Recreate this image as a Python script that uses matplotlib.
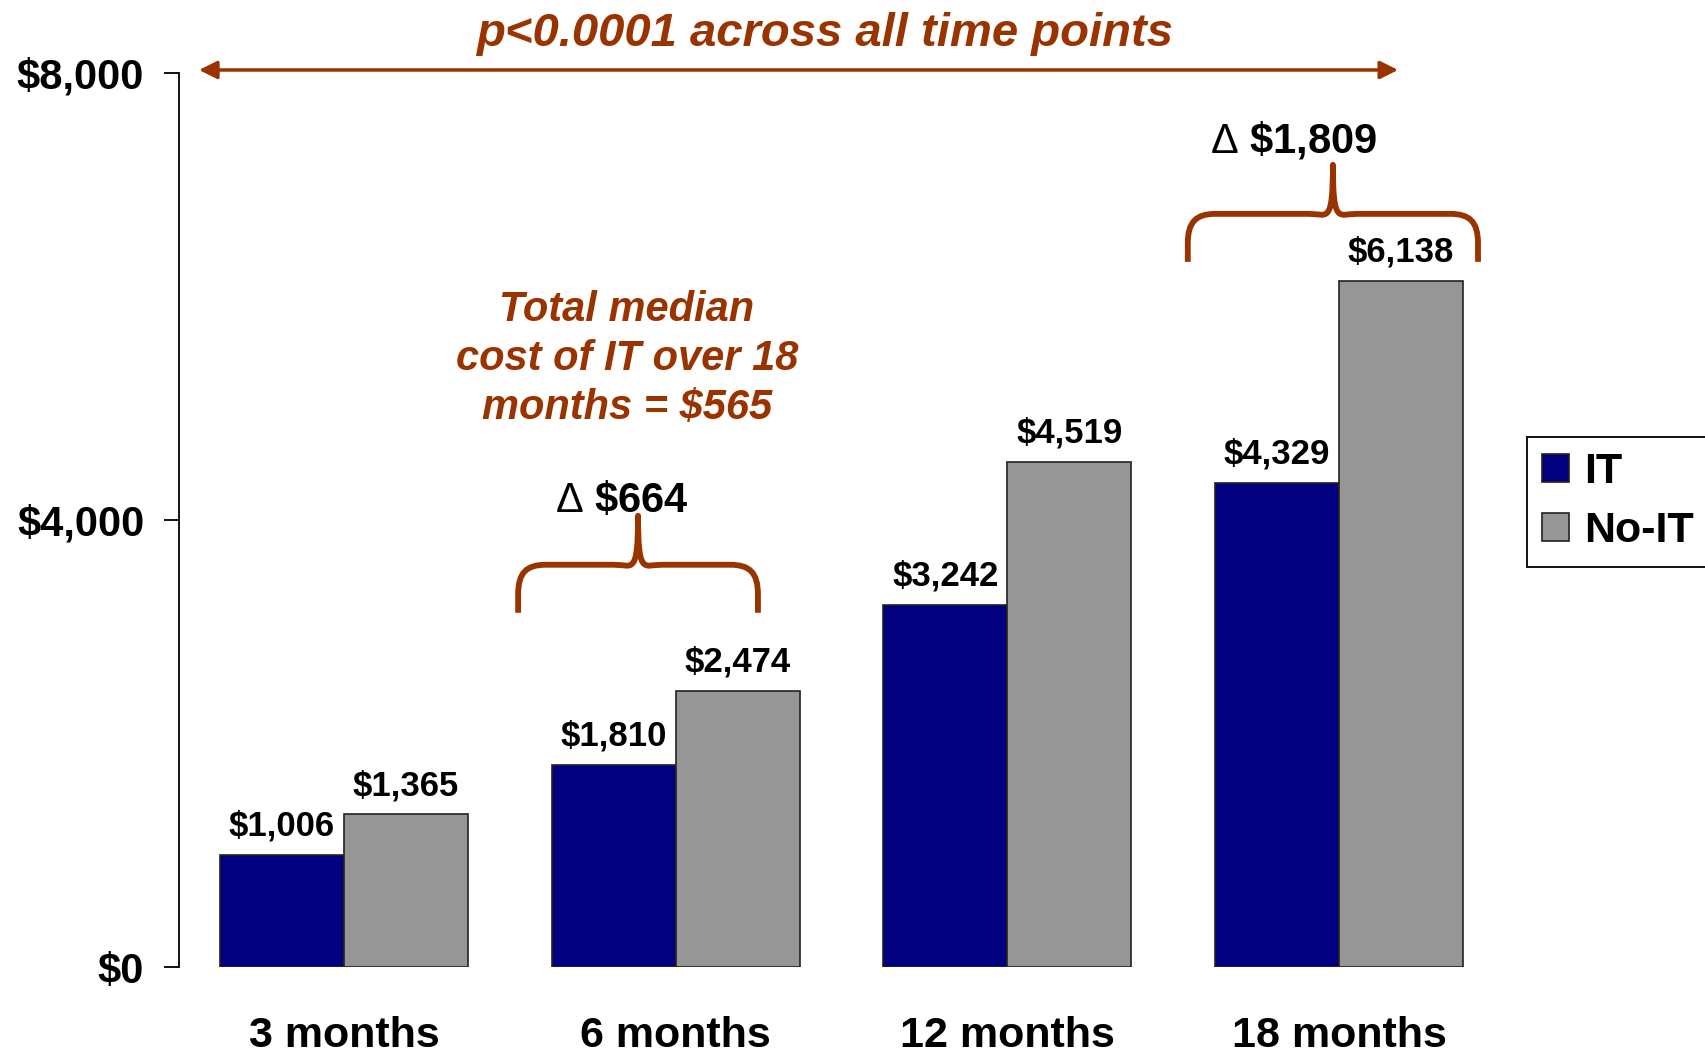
import numpy as np
import matplotlib
matplotlib.use('Agg')
import matplotlib.pyplot as plt
from matplotlib.path import Path
from matplotlib.patches import PathPatch

plt.rcParams['font.family'] = ['Liberation Sans', 'DejaVu Sans']
plt.rcParams['mathtext.fontset'] = 'custom'
plt.rcParams['mathtext.rm'] = 'Liberation Sans'

# data
periods = ['3 months', '6 months', '12 months', '18 months']
it_cost = [1006, 1810, 3242, 4329]
noit_cost = [1365, 2474, 4519, 6138]
series = ['IT', 'No-IT']
ytick_vals = [0, 4000, 8000]
ytick_labels = ['$0', '$4,000', '$8,000']

brown = '#993300'
navy = '#000080'
grey = '#969696'

fig = plt.figure(figsize=(17.06, 10.54), dpi=100)
ax = fig.add_axes([179 / 1706, 87 / 1054, 1301 / 1706, 894 / 1054])

x = np.arange(len(periods))
w = 0.374
b1 = ax.bar(x - w / 2, it_cost, w, color=navy, edgecolor='#222222', linewidth=1.2, label=series[0])
b2 = ax.bar(x + w / 2, noit_cost, w, color=grey, edgecolor='#222222', linewidth=1.2, label=series[1])

for bars, vals in ((b1, it_cost), (b2, noit_cost)):
    for r, v in zip(bars, vals):
        ax.annotate(f'${v:,}', (r.get_x() + r.get_width() / 2, v), xytext=(0, 14),
                    textcoords='offset points', ha='center', va='baseline',
                    fontsize=25, fontweight='bold')

ax.set_xlim(-0.4975, 3.425)
ax.set_ylim(0, 8000)
ax.set_xticks(x)
ax.set_xticklabels(periods, fontsize=31, fontweight='bold')
ax.set_yticks(ytick_vals)
ax.set_yticklabels(ytick_labels, fontsize=30, fontweight='bold')
ax.tick_params(axis='x', length=0, pad=35)
ax.tick_params(axis='y', length=11, width=1.3, pad=14)
for s in ['top', 'right', 'bottom']:
    ax.spines[s].set_visible(False)
ax.spines['left'].set_linewidth(1.3)

# pixel -> data scale
fw, fh = fig.get_size_inches() * fig.dpi
pos = ax.get_position()
sx = (ax.get_xlim()[1] - ax.get_xlim()[0]) / (pos.width * fw)
sy = (ax.get_ylim()[1] - ax.get_ylim()[0]) / (pos.height * fh)


def brace(xl, xr, yb):
    c = (xl + xr) / 2
    yh = yb + 48 * sy
    yt = yh + 49 * sy
    verts = [(xl, yb), (xl, yh - 30 * sy), (xl, yh - 8 * sy), (xl + 8 * sx, yh), (xl + 28 * sx, yh),
             (c - 24 * sx, yh), (c - 6 * sx, yh), (c, yh - 12 * sy), (c, yt),
             (c, yh - 12 * sy), (c + 6 * sx, yh), (c + 24 * sx, yh),
             (xr - 28 * sx, yh), (xr - 8 * sx, yh), (xr, yh - 8 * sy), (xr, yh - 30 * sy), (xr, yb)]
    codes = [Path.MOVETO, Path.LINETO, Path.CURVE4, Path.CURVE4, Path.CURVE4,
             Path.LINETO, Path.CURVE4, Path.CURVE4, Path.CURVE4,
             Path.CURVE4, Path.CURVE4, Path.CURVE4,
             Path.LINETO, Path.CURVE4, Path.CURVE4, Path.CURVE4, Path.LINETO]
    ax.add_patch(PathPatch(Path(verts, codes), fill=False, edgecolor=brown, lw=4.2,
                           capstyle='butt', joinstyle='round', clip_on=False))


brace(0.525, 1.248, 3170)
brace(2.544, 3.419, 6310)
ax.text(0.838, 4072, r'$\Delta$ \$664', ha='center', va='baseline', fontsize=30, fontweight='bold')
ax.text(2.864, 7290, r'$\Delta$ \$1,809', ha='center', va='baseline', fontsize=30, fontweight='bold')

ax.text(0.853, 5437, 'Total median\ncost of IT over 18\nmonths = $565', ha='center', va='center',
        multialignment='center', fontsize=30, fontweight='bold', fontstyle='italic',
        color=brown, linespacing=1.31)

ax.annotate('', xy=(3.178, 8027), xytext=(-0.437, 8027),
            arrowprops=dict(arrowstyle='<|-|>', color=brown, lw=2.5, mutation_scale=27,
                            shrinkA=0, shrinkB=0), annotation_clip=False)
ax.text(1.45, 8345, 'p<0.0001 across all time points', ha='center', va='center',
        fontsize=34, fontweight='bold', fontstyle='italic', color=brown)

leg = ax.legend(loc='upper left', bbox_to_anchor=(1527 / 1706, 1 - 437 / 1054),
                bbox_transform=fig.transFigure, borderaxespad=0, fancybox=False,
                edgecolor='black', framealpha=1, handlelength=0.63, handleheight=0.63,
                handletextpad=0.35, borderpad=0.35, labelspacing=0.45,
                prop={'size': 31, 'weight': 'bold'})
leg.get_frame().set_linewidth(1.3)

fig.savefig('out.png', dpi=100)
